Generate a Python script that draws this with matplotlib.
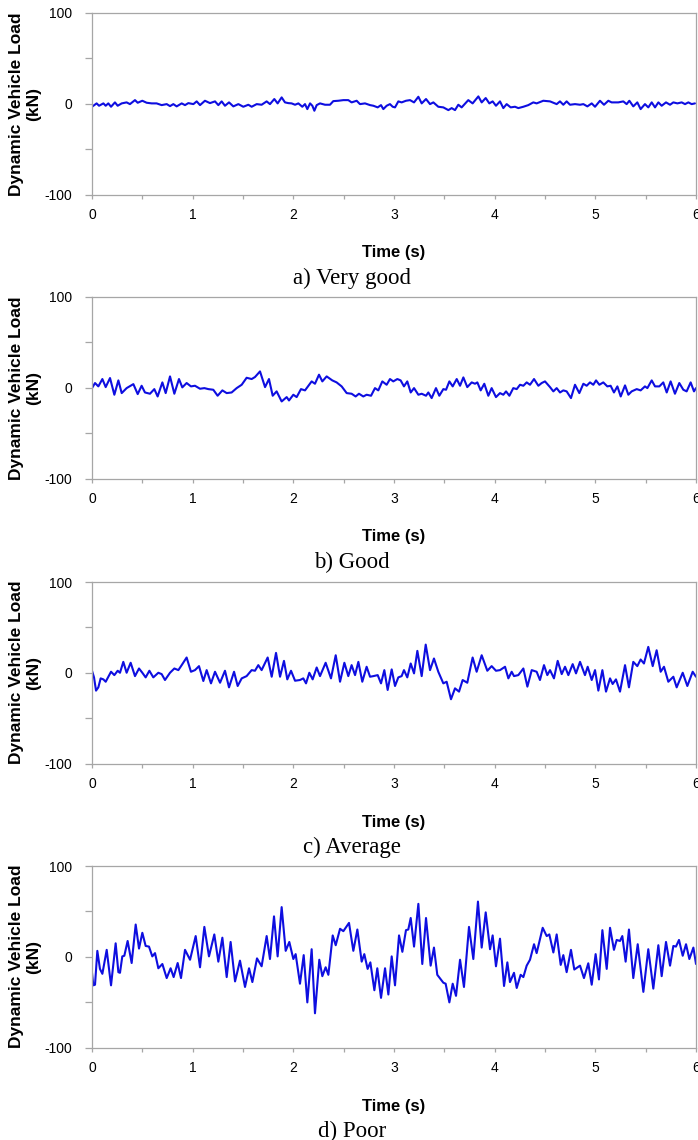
import matplotlib
matplotlib.use("Agg")
import matplotlib.pyplot as plt
from matplotlib.ticker import MultipleLocator

# dynamic vehicle load traces (kN)

time_a = [0.0, 0.046, 0.07, 0.113, 0.136, 0.162, 0.189, 0.228, 0.255, 0.295, 0.344, 0.377, 0.427, 0.454,
          0.5, 0.543, 0.593, 0.642, 0.692, 0.742, 0.775, 0.808, 0.841, 0.891, 0.924, 0.957, 1.007, 1.04,
          1.073, 1.122, 1.172, 1.222, 1.255, 1.288, 1.321, 1.361, 1.404, 1.454, 1.503, 1.553, 1.586, 1.636,
          1.685, 1.735, 1.768, 1.811, 1.844, 1.884, 1.917, 1.95, 1.983, 2.017, 2.05, 2.089, 2.116, 2.139,
          2.166, 2.189, 2.209, 2.232, 2.265, 2.315, 2.364, 2.397, 2.447, 2.497, 2.546, 2.579, 2.629, 2.662,
          2.712, 2.762, 2.795, 2.838, 2.871, 2.894, 2.927,
          2.96, 2.987, 3.01, 3.043, 3.076, 3.119, 3.159, 3.199, 3.242, 3.275, 3.318, 3.358, 3.391, 3.44,
          3.49, 3.54, 3.573, 3.606, 3.639, 3.672, 3.738, 3.781, 3.838, 3.871, 3.911, 3.947, 3.98, 4.013,
          4.053, 4.086, 4.119, 4.159, 4.202, 4.235, 4.285, 4.334, 4.384, 4.417, 4.483, 4.55, 4.616, 4.649,
          4.682, 4.715, 4.748, 4.798, 4.848, 4.881, 4.921, 4.964, 4.997, 5.046, 5.086, 5.129, 5.162, 5.228,
          5.278, 5.311, 5.338, 5.377, 5.417, 5.45, 5.493, 5.526, 5.56, 5.593, 5.626, 5.659, 5.702, 5.742,
          5.775, 5.815, 5.858, 5.891, 5.924, 5.957, 5.99]
load_a = [-3.3, 0.4, -2.2, 0.4, -2.2, 0.4, -3.3, 1.5, -2.2, 0.4, 1.5, -0.4, 4.0, 1.1,
          3.3, 1.1, 0.4, 0.4, -1.5, -0.4, -2.6, -0.4, -2.9, 0.4, -1.5, 0.7, -0.4, 2.6,
          -1.5, 3.3, 0.7, 2.6, -1.5, 2.6, -2.2, 1.5, -2.9, -0.4, -3.3, -1.1, -3.3, -0.4,
          -1.1, 2.6, -0.4, 5.2, 0.4, 7.0, 1.5, 0.7, 0.4, -1.1, 0.4, -3.3, -0.4, -5.9,
          0.4, -2.2, -7.7, -1.5, 0.4, -1.1, -1.1, 2.9, 3.3, 4.0, 4.0, 1.5, 3.3, -0.4,
          0.4, -1.5, -2.2, -4.0, -1.5, -5.9, -2.2,
          -0.4, -3.3, -4.0, 2.6, 1.5, 3.3, 4.0, 1.5, 7.7, 0.4, 5.2, -0.4, 1.5, -3.3,
          -4.0, -7.0, -4.8, -7.0, -1.1, -4.0, 4.0, 0.4, 8.1, 1.5, 6.3, 0.4, 2.6, -2.2,
          2.6, -4.8, -0.4, -4.0, -3.3, -4.8, -3.3, -1.5, 1.5, 0.4, 3.3, 2.6, -0.4, 2.6,
          -1.1, 2.6, -1.1, -0.4, -1.1, -0.4, -2.9, 0.4, -3.3, 3.3, -1.1, 3.3, 1.5, 1.5,
          2.6, -0.4, 3.3, -2.9, 1.5, -5.9, -0.4, -4.0, 1.5, -4.0, 1.5, -2.2, 1.5, -1.1,
          1.5, 0.4, 1.5, -0.4, 1.5, -0.4, 0.4]

time_b = [0.0, 0.03, 0.063, 0.103, 0.136, 0.179, 0.222, 0.262, 0.295, 0.344, 0.411, 0.454, 0.493, 0.526,
          0.576, 0.619, 0.652, 0.699, 0.732, 0.775, 0.818, 0.864, 0.897, 0.94, 0.983, 1.023, 1.073, 1.116,
          1.156, 1.205, 1.248, 1.295, 1.338, 1.387, 1.437, 1.487, 1.536, 1.586, 1.619, 1.669, 1.719, 1.758,
          1.795, 1.834, 1.884, 1.934, 1.957, 2.0, 2.033, 2.076, 2.116, 2.182, 2.215, 2.255, 2.288, 2.331,
          2.387, 2.43, 2.48, 2.53, 2.579, 2.619, 2.652, 2.695, 2.728, 2.772, 2.811, 2.844, 2.884, 2.927,
          2.96, 2.993, 3.033, 3.066, 3.099, 3.132, 3.166, 3.199, 3.242, 3.275, 3.318, 3.341, 3.374, 3.417,
          3.45, 3.49, 3.517, 3.55, 3.583, 3.623, 3.656, 3.689, 3.728, 3.772, 3.805, 3.828, 3.861, 3.897,
          3.937, 3.97, 4.013, 4.053, 4.086, 4.113, 4.146, 4.185, 4.219, 4.252, 4.285, 4.318, 4.351, 4.391,
          4.434, 4.467, 4.5, 4.55, 4.583, 4.616, 4.649, 4.682, 4.715, 4.758, 4.798, 4.841, 4.881, 4.914,
          4.947, 4.98, 5.007, 5.04, 5.079, 5.119, 5.152, 5.185, 5.219, 5.252, 5.295, 5.328, 5.361, 5.411,
          5.45, 5.493, 5.517, 5.56, 5.593, 5.636, 5.675, 5.709, 5.748, 5.791, 5.834, 5.874, 5.907, 5.947,
          5.98, 6.0]
load_b = [-0.4, 5.2, 1.5, 9.6, 0.7, 10.7, -7.7, 8.1, -5.9, -0.4, 4.0, -7.0, 2.2, -5.2,
          -6.6, -1.5, -9.6, 5.9, -5.9, 12.5, -6.6, 9.6, 0.4, 5.2, 1.5, 2.2, -1.1, -0.4,
          -1.5, -2.2, -8.8, -2.9, -5.9, -5.2, -0.4, 3.3, 11.0, 9.6, 11.8, 18.0, 0.7, 9.6,
          -8.8, -4.0, -15.1, -10.3, -14.0, -7.7, -10.3, -1.5, -2.9, 7.0, 4.4, 14.4, 7.0, 12.5,
          8.1, 5.9, 1.5, -5.9, -6.6, -9.6, -6.6, -9.6, -7.7, -8.8, -0.4, -2.9, 7.0, 3.3,
          9.6, 7.0, 9.6, 8.1, 1.5, 7.0, -5.2, -0.4, -7.7, -6.6, -8.8, -5.2, -11.4, -0.4,
          -8.8, -1.5, -2.2, 7.0, 1.5, 9.6, 2.2, 11.4, 0.7, 5.9, 4.4, 5.9, -2.9, 4.4,
          -8.8, -0.4, -10.3, -5.9, -7.7, -4.0, -8.8, -0.4, -1.5, 3.3, 2.2, 5.9, 3.3, 9.6,
          2.2, 5.2, 7.0, 0.7, -4.0, -0.4, -5.2, -2.9, -4.0, -11.4, 3.3, -5.9, 4.4, 2.2,
          5.9, 3.3, 8.1, 3.3, 5.9, 1.5, 2.2, -5.2, 1.5, -9.6, 2.6, -7.7, -4.0, -1.5,
          -2.9, 1.5, -0.4, 8.1, 1.5, 1.5, 5.9, -5.2, 7.0, -6.6, 5.2, -2.2, -4.0, 5.9,
          -4.0, -0.4]

time_c = [0.0, 0.02, 0.04, 0.063, 0.086, 0.113, 0.136, 0.162, 0.189, 0.222, 0.255, 0.278, 0.311, 0.344,
          0.384, 0.427, 0.467, 0.5, 0.533, 0.57, 0.609, 0.659, 0.692, 0.725, 0.775, 0.818, 0.858, 0.891,
          0.94, 0.983, 1.023, 1.063, 1.106, 1.139, 1.182, 1.222, 1.272, 1.321, 1.361, 1.411, 1.447, 1.487,
          1.536, 1.586, 1.619, 1.652, 1.685, 1.745, 1.785, 1.828, 1.868, 1.907, 1.94, 1.977, 2.017, 2.066,
          2.099, 2.126, 2.159, 2.192, 2.232, 2.265, 2.321, 2.374, 2.421, 2.464, 2.507, 2.546, 2.579, 2.613,
          2.646, 2.685, 2.728, 2.762, 2.795, 2.838, 2.871, 2.904, 2.937,
          2.977, 3.01, 3.043, 3.076, 3.099, 3.132, 3.166, 3.199, 3.232, 3.275, 3.315, 3.358, 3.397, 3.44,
          3.49, 3.523, 3.566, 3.606, 3.646, 3.682, 3.728, 3.781, 3.821, 3.871, 3.927, 3.97, 4.013, 4.053,
          4.103, 4.136, 4.169, 4.192, 4.235, 4.285, 4.325, 4.368, 4.417, 4.45, 4.49, 4.523, 4.55, 4.589,
          4.626, 4.666, 4.699, 4.732, 4.775, 4.808, 4.848, 4.897, 4.924, 4.964, 4.997, 5.03, 5.07, 5.106,
          5.146, 5.172, 5.205, 5.245, 5.295, 5.334, 5.377, 5.417, 5.45, 5.483, 5.526, 5.57, 5.609, 5.649,
          5.682, 5.725, 5.775, 5.808, 5.868, 5.914, 5.967, 6.0]
load_c = [2.2, -5.1, -19.7, -16.1, -6.2, -7.3, -9.9, -4.4, 1.1, -2.6, 2.2, 0.0, 12.0, 0.0,
          11.0, -3.7, 4.7, 0.0, -5.1, 2.2, -5.1, 0.0, -1.5, -8.0, 0.0, 4.7, 2.9, 8.4,
          16.8, 1.1, 2.9, 7.3, -9.1, 2.9, -11.7, 1.1, -11.0, 2.2, -16.1, 1.1, -14.6, -6.2,
          -3.7, 2.9, 2.2, 8.4, 2.9, 16.8, -4.4, 21.9, -4.4, 13.1, -7.3, 2.2, -8.8, -8.0,
          -6.2, -11.7, 0.0, -7.3, 5.8, -3.7, 11.0, -6.2, 19.3, -9.9, 11.0, -3.7, 8.4, -2.6,
          12.0, -9.9, 6.6, -4.4, -3.7, -2.6, -11.7, 2.9, -19.0,
          3.7, -14.6, -5.1, -3.7, 2.9, -5.1, 10.2, -0.7, 24.1, -3.7, 31.0, 2.9, 15.7, 1.1,
          -11.7, -9.9, -29.2, -17.2, -20.8, -8.0, -11.0, 16.8, 1.1, 19.3, 2.2, 7.3, 2.2, 2.9,
          6.6, -6.2, 1.1, -3.7, -2.6, 4.7, -15.3, 2.9, 1.1, -8.0, 8.4, -2.6, 2.9, -6.2,
          13.1, -1.5, 6.6, -2.6, 9.5, -0.7, 12.0, -2.6, 6.6, -8.0, 2.9, -19.7, 2.9, -20.8,
          -6.2, -12.4, -7.3, -20.8, 8.4, -16.1, 12.0, 7.3, 14.6, 10.2, 28.5, 7.3, 24.8, 1.1,
          6.6, -9.9, -4.4, -16.1, 0.0, -14.6, 1.1, -4.4]

time_d = [0.0, 0.013, 0.03, 0.053, 0.079, 0.103, 0.146, 0.189, 0.235, 0.262, 0.278, 0.301, 0.321, 0.354,
          0.394, 0.434, 0.467, 0.5, 0.533, 0.566, 0.599, 0.626, 0.659, 0.699, 0.742, 0.781, 0.811, 0.851,
          0.884, 0.924, 0.974, 1.03, 1.073, 1.116, 1.162, 1.215, 1.255, 1.295, 1.338, 1.377, 1.421, 1.47,
          1.52, 1.56, 1.593, 1.639, 1.685, 1.735, 1.768, 1.808, 1.844, 1.884, 1.924, 1.96, 2.0, 2.023,
          2.066, 2.103, 2.139, 2.182, 2.215, 2.258, 2.288, 2.321, 2.348, 2.391, 2.421, 2.464, 2.497, 2.553,
          2.596, 2.636, 2.679, 2.705, 2.738, 2.765, 2.805, 2.834, 2.871, 2.911, 2.944,
          2.977, 3.01, 3.05, 3.083, 3.119, 3.142, 3.166, 3.199, 3.242, 3.281, 3.318, 3.364, 3.397, 3.43,
          3.49, 3.513, 3.55, 3.583, 3.616, 3.656, 3.695, 3.745, 3.788, 3.834, 3.871, 3.911, 3.954, 3.98,
          4.013, 4.053, 4.093, 4.126, 4.152, 4.192, 4.219, 4.258, 4.285, 4.318, 4.351, 4.391, 4.417, 4.477,
          4.517, 4.543, 4.583, 4.616, 4.656, 4.682, 4.715, 4.758, 4.791, 4.848, 4.887, 4.93, 4.964, 5.003,
          5.036, 5.07, 5.113, 5.146, 5.185, 5.212, 5.245, 5.268, 5.301, 5.334, 5.377, 5.421, 5.477, 5.526,
          5.576, 5.626, 5.659, 5.702, 5.742, 5.775, 5.801, 5.831, 5.868, 5.901, 5.934, 5.974, 6.0]
load_d = [-17.7, -31.5, -30.8, 6.5, -13.4, -18.8, 7.6, -31.5, 14.8, -17.0, -17.7, 0.4, 1.1, 17.4,
          -6.9, 35.5, 9.0, 26.4, 11.9, 11.2, 0.4, 4.0, -12.7, -8.0, -23.5, -12.7, -22.4, -6.9,
          -23.5, 7.6, -3.3, 22.8, -11.6, 32.9, 0.4, 24.6, -5.4, 21.0, -22.4, 16.3, -27.2, -4.3,
          -33.3, -12.7, -27.9, -1.8, -10.5, 22.8, -2.5, 44.5, 0.4, 54.7, 6.5, 16.3, -2.5, 2.9,
          -29.7, 1.8, -50.3, 8.3, -62.3, -3.3, -21.4, -11.6, -19.9, 23.5, 12.7, 30.8, 28.2, 37.3,
          6.5, 30.0, -5.4, 2.9, -13.4, -6.2, -36.9, -12.7, -45.3, -12.7, -41.6,
          0.4, -31.5, 23.5, 5.4, 29.3, 30.0, 42.7, 11.2, 58.3, -8.0, 42.7, -9.8, 10.1, -19.9,
          -28.6, -29.7, -50.3, -29.7, -43.1, -3.3, -33.3, 32.9, -2.5, 60.8, 10.1, 48.9, 8.3, 23.5,
          -10.5, 19.9, -32.2, -6.2, -27.9, -17.7, -34.4, -19.9, -22.4, -9.8, -3.3, 13.8, 4.0, 31.9,
          22.8, 24.6, 4.7, 24.6, -9.0, 1.8, -17.0, 7.6, -14.1, -9.8, -23.5, -7.2, -30.8, 2.9,
          -25.0, 29.3, -13.4, 31.9, 7.6, 18.5, 17.4, 22.8, -5.4, 30.0, -23.5, 13.8, -38.7, 8.3,
          -35.1, 12.7, -21.4, 16.3, -9.8, 11.9, 11.2, 18.5, 1.1, 13.8, -2.5, 10.1, -8.0]

captions = ["a) Very good", "b) Good", "c) Average", "d) Poor"]
y_ticks = [-100, 0, 100]

plt.rcParams["font.family"] = ["Liberation Sans", "DejaVu Sans"]
plt.rcParams["axes.unicode_minus"] = False

W, H = 698, 1140
fig = plt.figure(figsize=(W / 100, H / 100), dpi=100)

series = [(time_a, load_a), (time_b, load_b), (time_c, load_c), (time_d, load_d)]
tops = [13, 297, 582, 866]
ax_h = 181.5
left, right = 92, 696
grey = "#a6a6a6"

for (t, load), cap, top in zip(series, captions, tops):
    ax = fig.add_axes([left / W, 1 - (top + ax_h) / H, (right - left) / W, ax_h / H])
    ax.plot(t, load, color="#0e0ee0", lw=1.5, solid_joinstyle="round", solid_capstyle="round")
    ax.set_xlim(0, 6)
    ax.set_ylim(-100, 100)
    ax.xaxis.set_major_locator(MultipleLocator(1))
    ax.xaxis.set_minor_locator(MultipleLocator(0.5))
    ax.set_yticks(y_ticks)
    ax.yaxis.set_minor_locator(MultipleLocator(50))
    for s in ax.spines.values():
        s.set_color(grey)
        s.set_linewidth(0.9)
    ax.tick_params(which="both", color=grey, width=0.9, direction="out", labelsize=10)
    ax.tick_params(axis="y", which="both", length=5, pad=9)
    ax.tick_params(axis="x", which="both", length=3, pad=7)

    mid = 1 - (top + ax_h / 2) / H
    fig.text(25 / W, mid, "Dynamic Vehicle Load\n(kN)", rotation=90, ha="center", va="center",
             fontsize=12.5, fontweight="bold", multialignment="center")
    fig.text((left + right) / 2 / W, 1 - (top + 240) / H, "Time (s)", ha="center", va="center",
             fontsize=12, fontweight="bold")
    fig.text(352 / W, 1 - (top + 265) / H, cap, ha="center", va="center",
             fontsize=16.5, family=["Liberation Serif", "DejaVu Serif"])

fig.savefig("out.png", dpi=100)
